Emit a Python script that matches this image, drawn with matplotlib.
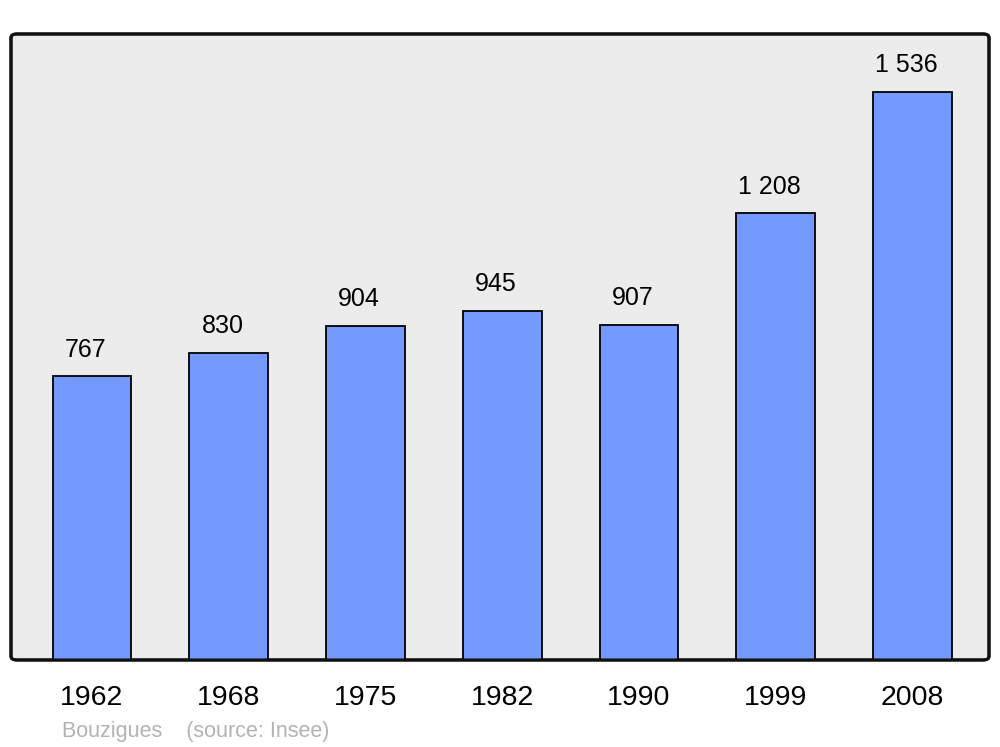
import matplotlib.pyplot as plt
from matplotlib.patches import FancyBboxPatch
import numpy as np

plt.rcParams['font.family'] = ['Liberation Sans', 'DejaVu Sans']

years = ['1962', '1968', '1975', '1982', '1990', '1999', '2008']
population = [767, 830, 904, 945, 907, 1208, 1536]
value_labels = ['767', '830', '904', '945', '907', '1 208', '1 536']

fig = plt.figure(figsize=(10, 7.47), dpi=100)
ax = fig.add_axes([0.011, 0.1165, 0.978, 0.838])

x = np.arange(len(years))
ax.bar(x, population, width=0.575, color='#7499ff', edgecolor='black', linewidth=1.3, zorder=2)

for xi, v, lab in zip(x, population, value_labels):
    ax.annotate(lab, (xi, v), xytext=(-4.5, 10.5), textcoords='offset points',
                ha='center', va='bottom', fontsize=18)

ax.set_xlim(-0.592, 6.56)
ax.set_ylim(0, 1693)
ax.set_xticks(x)
ax.set_xticklabels(years, fontsize=20.5)
ax.tick_params(axis='x', length=0, pad=18)
ax.set_yticks([])
for s in ax.spines.values():
    s.set_visible(False)
ax.patch.set_visible(False)

# grey panel with rounded black frame
frame = FancyBboxPatch((0, 0), 1, 1, boxstyle='round,pad=0,rounding_size=0.006',
                       transform=ax.transAxes, facecolor='#ececec', edgecolor='#111111',
                       linewidth=2.2, zorder=0, clip_on=False)
ax.add_patch(frame)
frame2 = FancyBboxPatch((0, 0), 1, 1, boxstyle='round,pad=0,rounding_size=0.006',
                        transform=ax.transAxes, facecolor='none', edgecolor='#111111',
                        linewidth=2.2, zorder=3, clip_on=False)
ax.add_patch(frame2)

fig.text(0.062, 0.0134, 'Bouzigues    (source: Insee)', color='#b3b3b3', fontsize=15.5,
         ha='left', va='baseline')

fig.savefig('out.png', dpi=100, facecolor='white')
